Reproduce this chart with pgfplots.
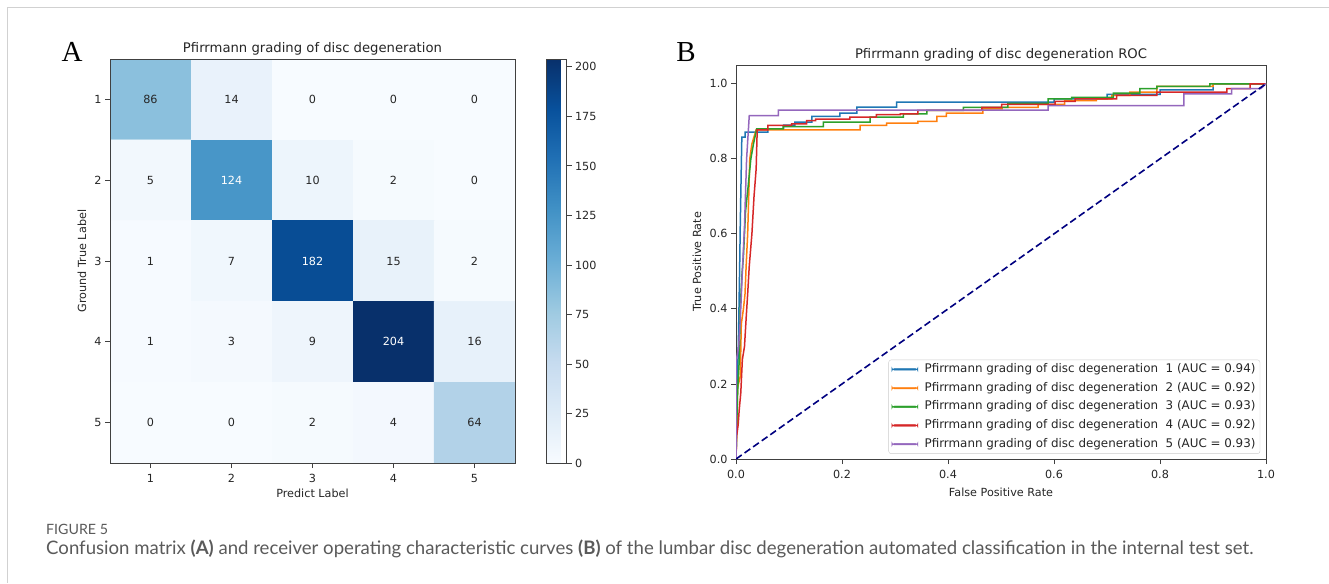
\documentclass[border=0pt]{standalone}
\usepackage{fontspec}
\setmainfont{DejaVu Sans}
\newfontfamily\serifA{Liberation Serif}
\newfontfamily\capfont{Lato}
\usepackage{pgfplots}
\pgfplotsset{compat=1.18}
\usepackage{pgfplotstable}
\pgfkeys{/pgf/number format/assume math mode=true}

\definecolor{mplblue}{HTML}{1F77B4}
\definecolor{mplorange}{HTML}{FF7F0E}
\definecolor{mplgreen}{HTML}{2CA02C}
\definecolor{mplred}{HTML}{D62728}
\definecolor{mplpurple}{HTML}{9467BD}
\definecolor{navy}{RGB}{0,0,128}
\definecolor{capgrey}{HTML}{5A5A5A}

\pgfplotstableread{
x y c
1 1 86
2 1 14
3 1 0
4 1 0
5 1 0
1 2 5
2 2 124
3 2 10
4 2 2
5 2 0
1 3 1
2 3 7
3 3 182
4 3 15
5 3 2
1 4 1
2 4 3
3 4 9
4 4 204
5 4 16
1 5 0
2 5 0
3 5 2
4 5 4
5 5 64
}\cmdata

\pgfplotstableread{
x y c
1 1 86
2 1 14
3 1 0
4 1 0
5 1 0
1 2 5
3 2 10
4 2 2
5 2 0
1 3 1
2 3 7
4 3 15
5 3 2
1 4 1
2 4 3
3 4 9
5 4 16
1 5 0
2 5 0
3 5 2
4 5 4
5 5 64
}\cmblack

\pgfplotstableread{
x y c
2 2 124
3 3 182
4 4 204
}\cmwhite

\newcommand{\lbl}{\fontsize{11.2}{13}\selectfont}
\newcommand{\ttl}{\fontsize{13.2}{15}\selectfont}

\pgfplotsset{
  mplaxis/.style={
    scale only axis,
    axis line style={black!75, line width=0.9pt},
    tick style={black!75, line width=0.9pt},
    tick align=outside,
    major tick length=5pt,
    xtick pos=left, ytick pos=left,
    tick label style={font=\lbl, text=black!85},
    xticklabel style={yshift=-3pt},
    label style={font=\lbl, text=black!85},
    title style={font=\ttl, text=black!85, at={(0.5,1)}, anchor=base, yshift=0.5pt},
  },
}

\begin{document}
\begin{tikzpicture}
\useasboundingbox (0,0) rectangle (1329pt,-583pt);
\fill[white] (0,0) rectangle (1329pt,-583pt);
\draw[black!18, line width=0.8pt] (1329pt,-7pt) -- (7pt,-7pt) -- (7pt,-583pt);

\node[font=\serifA\fontsize{29}{30}\selectfont, anchor=base, inner sep=0pt] at (72pt,-62pt) {A};
\node[font=\serifA\fontsize{29}{30}\selectfont, anchor=base, inner sep=0pt] at (686pt,-62pt) {B};

% Confusion matrix
\begin{axis}[mplaxis, axis on top,
  at={(110pt,-59pt)}, anchor=north west,
  width=405pt, height=404pt,
  xmin=0.5, xmax=5.5, ymin=0.5, ymax=5.5,
  y dir=reverse, enlargelimits=false,
  xtick={1,2,3,4,5}, ytick={1,2,3,4,5},
  title={Pfirrmann grading of disc degeneration},
  xlabel={Predict Label}, ylabel={Ground True Label},
  xlabel style={at={(0.5,0)}, anchor=base, yshift=-34pt},
  ylabel style={at={(0,0.5)}, anchor=base, yshift=24pt},
  colormap={blues}{rgb255=(247,251,255) rgb255=(222,235,247) rgb255=(198,219,239) rgb255=(158,202,225) rgb255=(107,174,214) rgb255=(66,146,198) rgb255=(33,113,181) rgb255=(8,81,156) rgb255=(8,48,107)},
  point meta min=0, point meta max=204,
  colorbar,
  colorbar style={
    scale only axis,
    width=20pt,
    at={(parent axis.north east)}, anchor=north west, xshift=23pt,
    ytick={0,25,50,75,100,125,150,175,200},
    ytick pos=right, yticklabel pos=right,
    axis line style={black!75, line width=0.9pt},
    tick style={black!75, line width=0.9pt},
    tick align=outside,
    major tick length=5pt,
    yticklabel style={font=\lbl, text=black!85},
  },
]
\addplot[matrix plot*, mesh/cols=5, point meta=explicit] table[x=x, y=y, meta=c] \cmdata;
\addplot[only marks, mark=none, nodes near coords, point meta=explicit symbolic,
  nodes near coords style={anchor=center, font=\lbl, text=black!85}] table[x=x, y=y, meta=c] \cmblack;
\addplot[only marks, mark=none, nodes near coords, point meta=explicit symbolic,
  nodes near coords style={anchor=center, font=\lbl, text=white}] table[x=x, y=y, meta=c] \cmwhite;
\end{axis}

% ROC
\begin{axis}[mplaxis,
  at={(736pt,-65pt)}, anchor=north west,
  width=530pt, height=394pt,
  xmin=0, xmax=1, ymin=0, ymax=1.05,
  xtick={0,0.2,0.4,0.6,0.8,1}, ytick={0,0.2,0.4,0.6,0.8,1},
  x tick label style={/pgf/number format/fixed, /pgf/number format/fixed zerofill, /pgf/number format/precision=1},
  y tick label style={/pgf/number format/fixed, /pgf/number format/fixed zerofill, /pgf/number format/precision=1},
  title={Pfirrmann grading of disc degeneration ROC},
  xlabel={False Positive Rate}, ylabel={True Positive Rate},
  xlabel style={at={(0.5,0)}, anchor=base, yshift=-37pt},
  ylabel style={at={(0,0.5)}, anchor=base, yshift=35pt},
  legend cell align=left,
  legend image code/.code={\fill[#1] (0pt,-0.8pt) rectangle (26pt,0.8pt);},
  legend style={at={(0.989,0.013)}, anchor=south east, draw=black!20, rounded corners=2.5pt,
    fill=white, font=\fontsize{11.9}{13}\selectfont,
    inner xsep=3pt, inner ysep=2pt, row sep=3.7pt, column sep=5pt,
    nodes={inner sep=1.5pt, text height=9pt, text depth=3pt, text=black!85}},
]
\addplot[mplblue, line width=1.5pt, forget plot] coordinates {(0,0) (0.002,0.15) (0.005,0.35) (0.007,0.52) (0.008,0.62) (0.010,0.78) (0.011,0.858) (0.017,0.858) (0.017,0.871) (0.060,0.871) (0.060,0.880) (0.090,0.880) (0.090,0.890) (0.111,0.890) (0.111,0.898) (0.143,0.898) (0.143,0.913) (0.196,0.913) (0.196,0.922) (0.228,0.922) (0.228,0.938) (0.303,0.938) (0.303,0.951) (0.600,0.951) (0.600,0.960) (0.700,0.960) (0.700,0.972) (0.800,0.972) (0.800,0.984) (0.900,0.984) (0.900,1.0) (1,1)};
\addplot[mplorange, line width=1.5pt, forget plot] coordinates {(0,0) (0.002,0.10) (0.003,0.19) (0.008,0.22) (0.010,0.36) (0.014,0.40) (0.017,0.44) (0.019,0.51) (0.022,0.60) (0.024,0.70) (0.026,0.80) (0.030,0.84) (0.038,0.877) (0.234,0.877) (0.234,0.889) (0.284,0.889) (0.284,0.895) (0.343,0.895) (0.343,0.900) (0.379,0.900) (0.379,0.913) (0.397,0.913) (0.397,0.922) (0.466,0.922) (0.466,0.933) (0.502,0.933) (0.502,0.937) (0.570,0.937) (0.570,0.945) (0.620,0.945) (0.620,0.955) (0.680,0.955) (0.680,0.960) (0.709,0.960) (0.709,0.969) (0.743,0.969) (0.743,0.978) (0.794,0.978) (0.794,0.993) (0.900,0.993) (0.900,1.0) (1,1)};
\addplot[mplgreen, line width=1.5pt, forget plot] coordinates {(0,0) (0.001,0.07) (0.003,0.18) (0.006,0.26) (0.008,0.40) (0.011,0.487) (0.014,0.54) (0.018,0.66) (0.023,0.728) (0.028,0.80) (0.033,0.84) (0.039,0.880) (0.089,0.880) (0.089,0.886) (0.165,0.886) (0.165,0.898) (0.253,0.898) (0.253,0.911) (0.316,0.911) (0.316,0.920) (0.360,0.920) (0.360,0.929) (0.429,0.929) (0.429,0.937) (0.513,0.937) (0.513,0.948) (0.589,0.948) (0.589,0.960) (0.633,0.960) (0.633,0.964) (0.712,0.964) (0.712,0.975) (0.762,0.975) (0.762,0.987) (0.794,0.987) (0.794,0.993) (0.894,0.993) (0.894,1.0) (1,1)};
\addplot[mplred, line width=1.5pt, forget plot] coordinates {(0,0) (0.001,0.06) (0.004,0.09) (0.006,0.13) (0.009,0.176) (0.012,0.265) (0.016,0.30) (0.019,0.372) (0.022,0.44) (0.025,0.514) (0.030,0.60) (0.034,0.70) (0.038,0.773) (0.040,0.877) (0.060,0.877) (0.060,0.889) (0.105,0.889) (0.105,0.893) (0.133,0.893) (0.133,0.902) (0.150,0.902) (0.150,0.906) (0.215,0.906) (0.215,0.911) (0.265,0.911) (0.265,0.918) (0.310,0.918) (0.310,0.920) (0.343,0.920) (0.343,0.929) (0.464,0.929) (0.464,0.937) (0.501,0.937) (0.501,0.945) (0.602,0.945) (0.602,0.953) (0.640,0.953) (0.640,0.960) (0.718,0.960) (0.718,0.969) (0.794,0.969) (0.794,0.978) (0.926,0.978) (0.926,0.987) (0.970,0.987) (0.970,1.0) (1,1)};
\addplot[mplpurple, line width=1.5pt, forget plot] coordinates {(0,0) (0,0.257) (0.005,0.30) (0.008,0.37) (0.012,0.50) (0.016,0.62) (0.020,0.80) (0.025,0.915) (0.080,0.915) (0.080,0.930) (0.589,0.930) (0.589,0.942) (0.845,0.942) (0.845,0.973) (0.935,0.973) (0.935,0.987) (0.990,0.987) (1,1)};
\addplot[navy, line width=1.6pt, dash pattern=on 7pt off 3.5pt, forget plot] coordinates {(0,0) (1,1)};
\addlegendimage{mplblue}
\addlegendentry{Pfirrmann grading of disc degeneration\ \ 1 (AUC = 0.94)}
\addlegendimage{mplorange}
\addlegendentry{Pfirrmann grading of disc degeneration\ \ 2 (AUC = 0.92)}
\addlegendimage{mplgreen}
\addlegendentry{Pfirrmann grading of disc degeneration\ \ 3 (AUC = 0.93)}
\addlegendimage{mplred}
\addlegendentry{Pfirrmann grading of disc degeneration\ \ 4 (AUC = 0.92)}
\addlegendimage{mplpurple}
\addlegendentry{Pfirrmann grading of disc degeneration\ \ 5 (AUC = 0.93)}
\end{axis}

\node[anchor=base west, inner sep=0pt, font=\capfont\fontsize{14.2}{16}\selectfont, text=capgrey] at (46pt,-534pt) {FIGURE 5};
\node[anchor=base west, inner sep=0pt, font=\capfont\fontsize{18.6}{20}\selectfont, text=capgrey] at (46pt,-554pt) {Confusion matrix \textbf{(A)} and receiver operating characteristic curves \textbf{(B)} of the lumbar disc degeneration automated classification in the internal test set.};
\end{tikzpicture}
\end{document}
